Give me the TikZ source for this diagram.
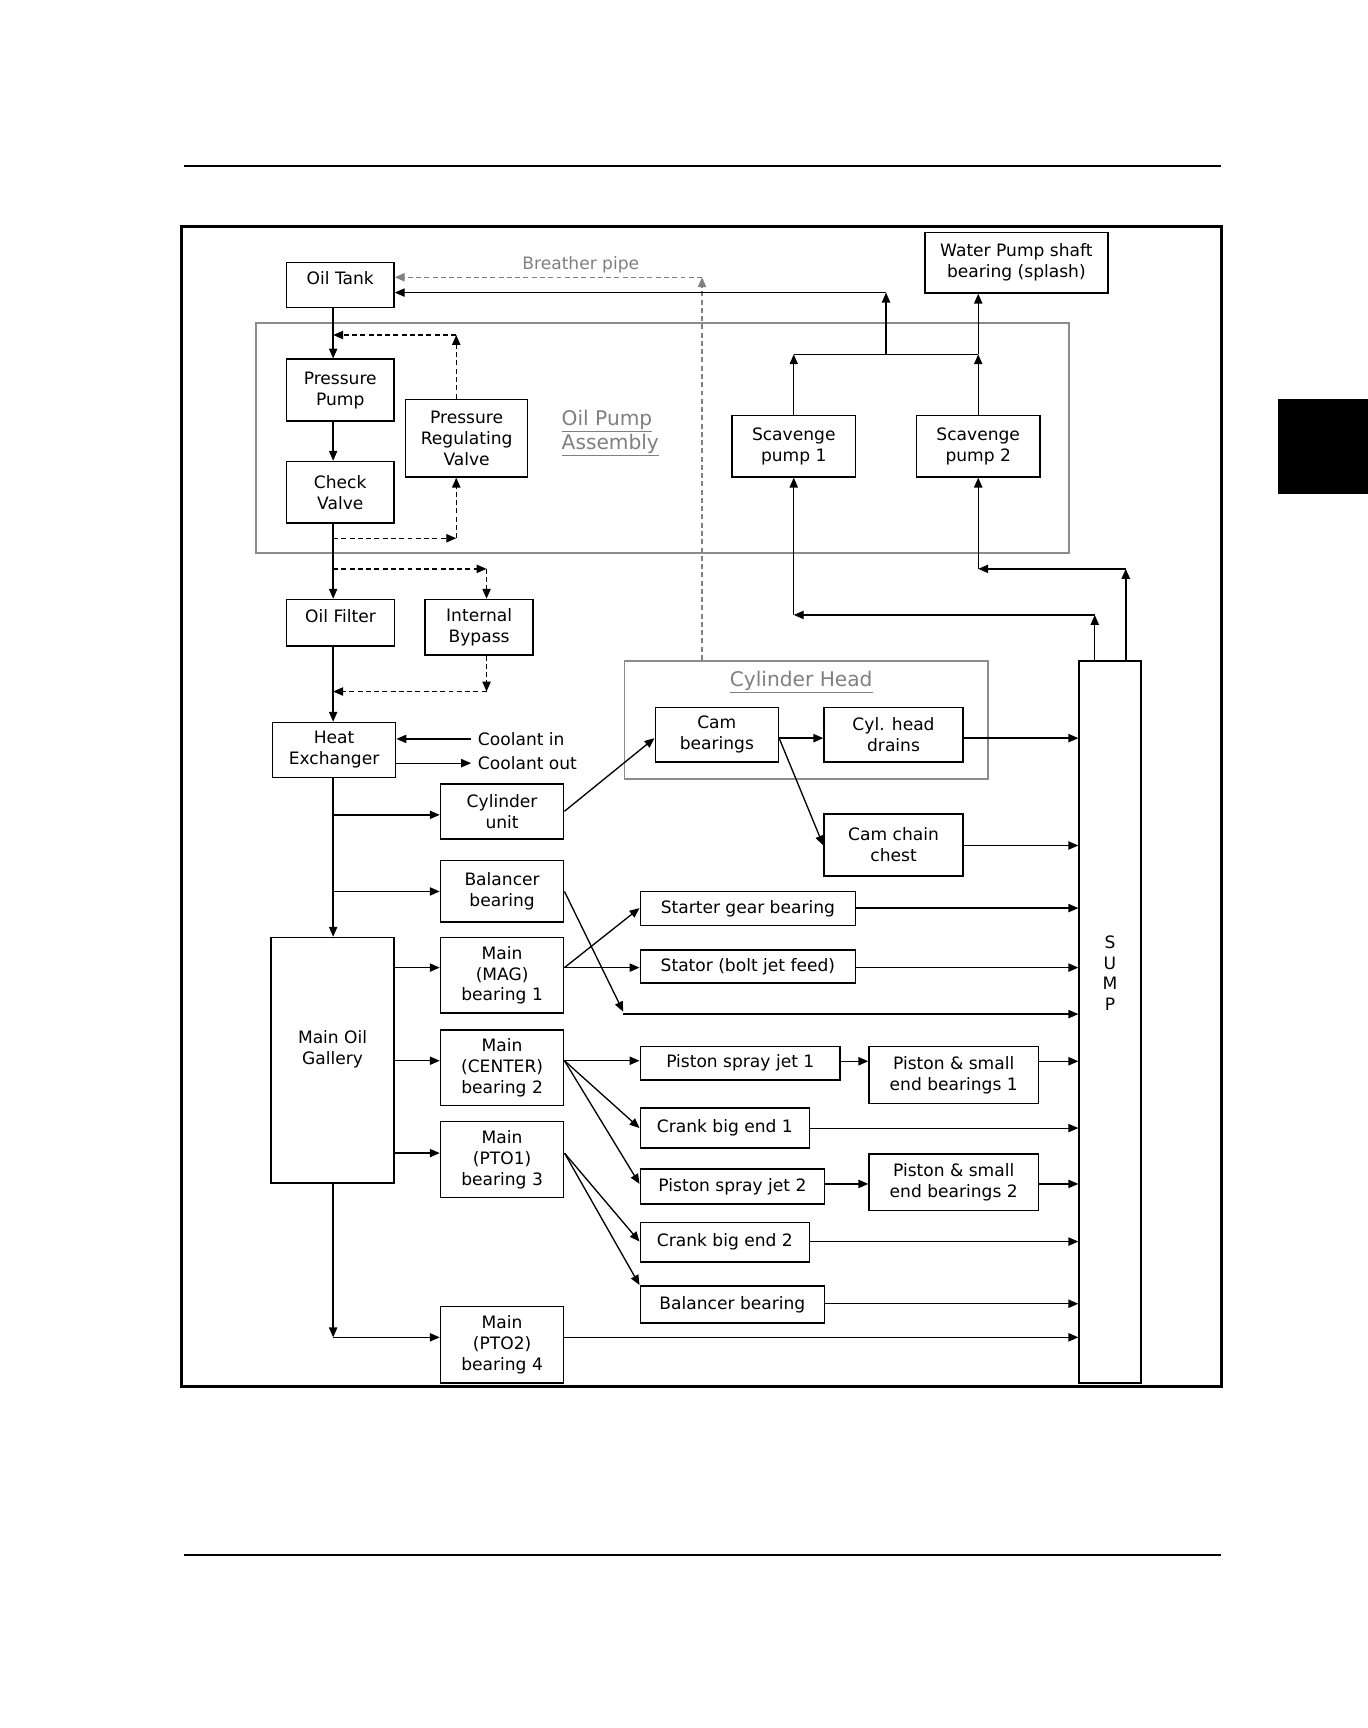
\documentclass[tikz,border=0pt]{standalone}
\usepackage{fontspec}
\setmainfont{DejaVu Sans}
\usetikzlibrary{arrows.meta,calc}
\definecolor{labgray}{gray}{0.5}
\definecolor{boxgray}{gray}{0.55}
\newcommand\dfont{\fontsize{15.5}{19}\selectfont}
\newcommand\gfont{\fontsize{18.3}{22}\selectfont}
\newcommand\mkbox[7][box]{\node[#1,minimum width={(#5-#3)*1pt},minimum height={(#6-#4)*1pt}] (#2) at ({(#3+#5)/2},{(#4+#6)/2}) {#7};}
\begin{document}
\begin{tikzpicture}[x=1pt,y=-1pt,
  box/.style={draw=black,line width=1.4pt,inner sep=0pt,align=center,font=\dfont},
  gbox/.style={draw=boxgray,line width=1.5pt,inner sep=0pt},
  txt/.style={inner sep=0pt,font=\dfont},
  glab/.style={inner sep=0pt,text=labgray},
  arr/.style={draw=black,line width=1.2pt,-{Triangle[length=9pt,width=7.5pt]}},
  dsh/.style={arr,dash pattern=on 4.5pt off 3pt},
  gdsh/.style={draw=labgray,line width=1.2pt,dash pattern=on 4.5pt off 3pt,-{Triangle[length=9pt,width=7.5pt]}},
  plain/.style={draw=black,line width=1.2pt}]
\useasboundingbox (0,0) rectangle (1241,1568);
\fill[white] (0,0) rectangle (1241,1568);
% page decoration
\draw[line width=2pt] (166.6,150.6) -- (1108.2,150.6);
\draw[line width=2pt] (166.6,1411) -- (1108.2,1411);
\fill[black] (1159.5,362) rectangle (1241,448.2);
\draw[line width=2.5pt] (164.8,205.4) rectangle (1108.4,1258);
% groups
\mkbox[gbox]{opa}{232}{293.3}{970.2}{502}{}
\mkbox[gbox]{cylhead}{566.7}{599.6}{896.8}{706.7}{}
% boxes
\mkbox{oiltank}{260}{238}{357.5}{279}{\raisebox{0pt}[0pt][0pt]{Oil Tank}}
\mkbox{wpump}{839.2}{210.8}{1005.3}{265.8}{Water Pump shaft\\bearing (splash)}
\mkbox{ppump}{260}{326}{357.5}{382}{Pressure\\Pump}
\mkbox{check}{260}{418.8}{357.5}{474.5}{Check\\Valve}
\mkbox{prv}{368}{362.3}{478.8}{432.7}{Pressure\\Regulating\\Valve}
\mkbox{scav1}{664.4}{377.1}{776.1}{432.7}{Scavenge\\pump 1}
\mkbox{scav2}{831.8}{377.1}{943.5}{432.7}{Scavenge\\pump 2}
\mkbox{filter}{260}{544}{358}{586}{\raisebox{0pt}[0pt][0pt]{Oil Filter}}
\mkbox{bypass}{385.8}{544}{483.7}{594.2}{Internal\\Bypass}
\mkbox{heatx}{247.3}{655.6}{359}{705.5}{Heat\\Exchanger}
\mkbox{cylunit}{399.7}{711.2}{511.5}{761.1}{Cylinder\\unit}
\mkbox{bal1}{399.7}{780.8}{511.5}{836.7}{Balancer\\bearing}
\mkbox{gallery}{245.9}{850.7}{357.7}{1073.5}{}
\mkbox{mag}{399.7}{850.7}{511.5}{919.3}{Main\\(MAG)\\bearing 1}
\mkbox{center}{399.7}{934.4}{511.5}{1003}{Main\\(CENTER)\\bearing 2}
\mkbox{pto1}{399.7}{1017.6}{511.5}{1086.5}{Main\\(PTO1)\\bearing 3}
\mkbox{pto2}{399.7}{1185.7}{511.5}{1254.7}{Main\\(PTO2)\\bearing 4}
\mkbox{cam}{594.6}{642}{706.3}{691.6}{Cam\\bearings}
\mkbox{drains}{747.8}{642}{873.8}{691.6}{Cyl. head\\drains}
\mkbox{chain}{747.8}{738.8}{873.8}{794.7}{Cam chain\\chest}
\mkbox{starter}{581}{808.9}{776.3}{840}{Starter gear bearing}
\mkbox{stator}{581}{861.8}{776.3}{892.1}{Stator (bolt jet feed)}
\mkbox{psj1}{581}{949.5}{762.4}{980}{Piston spray jet 1}
\mkbox{pse1}{788.6}{949.5}{942.2}{1001.2}{Piston \& small\\end bearings 1}
\mkbox{cbe1}{581}{1005.5}{734.4}{1041.8}{Crank big end 1}
\mkbox{psj2}{581}{1060.8}{748.3}{1092.3}{Piston spray jet 2}
\mkbox{pse2}{788.6}{1046.9}{942.2}{1098.6}{Piston \& small\\end bearings 2}
\mkbox{cbe2}{581}{1109.2}{734.4}{1144.9}{Crank big end 2}
\mkbox{bal2}{581}{1166.7}{748.1}{1200.5}{Balancer bearing}
\mkbox{sump}{979.2}{599.7}{1035.2}{1255}{}
% labels
\node[txt,align=center] (galleryl) at ($(gallery.center)+(0,-10)$) {Main Oil\\Gallery};
\node[txt,align=center,font=\fontsize{15.5}{18.6}\selectfont] (sumpl) at ($(sump.center)+(0,-44.5)$) {S\\U\\M\\P};
\node[glab,font=\dfont] (breather) at (527,240.4) {Breather pipe};
\node[glab,font=\gfont,align=left,anchor=west] (opal) at (509.5,393) {\underline{Oil Pump}\\\underline{Assembly}};
\node[glab,font=\gfont] (chl) at (727,619) {\underline{Cylinder Head}};
\node[txt,anchor=west] (cin) at (433.5,670.5) {Coolant in};
\node[txt,anchor=west] (cout) at (433.5,692.5) {Coolant out};
% coordinates
\coordinate (tx) at (302.3,0);
\coordinate (pl1) at (414,304);
\coordinate (pl2) at (414,488.4);
\coordinate (bp1) at (441.5,516.2);
\coordinate (bp2) at (441.5,627.5);
\coordinate (bc) at (637,251.6);
\coordinate (j1) at (804,321.5);
\coordinate (j1t) at (804,265.5);
\coordinate (s1) at (993.4,558);
\coordinate (s2) at (1021.5,516.2);
\coordinate (hb) at (565.5,918);
\coordinate (yCyl) at (0,739.4);
\coordinate (yBal) at (0,808.9);
\coordinate (yMag) at (0,878);
\coordinate (yCen) at (0,962.5);
\coordinate (yPto1) at (0,1046.3);
\coordinate (yPto2) at (0,1213.5);
\coordinate (yCam) at (0,669.8);
\coordinate (yChain) at (0,767.2);
\coordinate (yStart) at (0,824);
\coordinate (yBalH) at (0,920.2);
\coordinate (yP1) at (0,963);
\coordinate (yCbe1) at (0,1023.6);
\coordinate (yP2) at (0,1074.3);
\coordinate (yCbe2) at (0,1126.6);
\coordinate (yBal2) at (0,1183);
% main trunk
\draw[arr] (oiltank.south -| tx) -- (ppump.north -| tx);
\draw[arr] (ppump.south -| tx) -- (check.north -| tx);
\draw[arr] (check.south -| tx) -- (filter.north -| tx);
\draw[arr] (filter.south -| tx) -- (heatx.north -| tx);
\draw[arr] (heatx.south -| tx) -- (gallery.north -| tx);
\draw[arr] (gallery.south -| tx) -- (tx |- yPto2);
\draw[arr] (tx |- yPto2) -- (pto2.west |- yPto2);
% pressure regulating loop
\draw[dsh] (prv.north -| pl1) -- (pl1);
\draw[dsh] (pl1) -- (pl1 -| tx);
\draw[dsh] (pl2 -| tx) -- (pl2);
\draw[dsh] (pl2) -- (prv.south -| pl2);
% bypass
\draw[dsh] (bp1 -| tx) -- (bp1);
\draw[dsh] (bp1) -- (bypass.north -| bp1);
\draw[dsh] (bypass.south -| bp1) -- (bp2);
\draw[dsh] (bp2) -- (bp2 -| tx);
% breather
\draw[gdsh] (cylhead.north -| bc) -- (bc);
\draw[gdsh] (bc) -- (oiltank.east |- bc);
% scavenge return
\draw[arr] (scav1.north) -- (scav1.north |- j1);
\draw[plain] (scav1.north |- j1) -- (scav2.north |- j1);
\draw[arr] (scav2.north) -- (scav2.north |- j1);
\draw[arr] (scav2.north |- j1) -- (wpump.south -| scav2.north);
\draw[arr] (j1) -- (j1t);
\draw[arr] (j1t) -- (oiltank.east |- j1t);
% sump to scavenge pumps
\draw[arr] (sump.north -| s1) -- (s1);
\draw[arr] (s1) -- (s1 -| scav1.south);
\draw[arr] (s1 -| scav1.south) -- (scav1.south);
\draw[arr,line width=1.6pt] (sump.north -| s2) -- (s2);
\draw[arr] (s2) -- (s2 -| scav2.south);
\draw[arr] (s2 -| scav2.south) -- (scav2.south);
% coolant
\draw[arr] ([xshift=-6pt]cin.west) -- (heatx.east |- cin.west);
\draw[arr] (heatx.east |- cout.west) -- ([xshift=-6pt]cout.west);
% branches from trunk
\draw[arr] (tx |- yCyl) -- (cylunit.west |- yCyl);
\draw[arr] (tx |- yBal) -- (bal1.west |- yBal);
\draw[arr] (gallery.east |- yMag) -- (mag.west |- yMag);
\draw[arr] (gallery.east |- yCen) -- (center.west |- yCen);
\draw[arr] (gallery.east |- yPto1) -- (pto1.west |- yPto1);
% cylinder head
\draw[arr] (cylunit.east) -- (cam.west |- yCam);
\draw[arr] (cam.east |- yCam) -- (drains.west |- yCam);
\draw[arr] (cam.east |- yCam) -- (chain.west |- yChain);
\draw[arr] (drains.east |- yCam) -- (sump.west |- yCam);
\draw[arr] (chain.east |- yChain) -- (sump.west |- yChain);
% balancer 1
\draw[arr] (bal1.east |- yBal) -- (hb);
\draw[arr] (hb |- yBalH) -- (sump.west |- yBalH);
% MAG
\draw[arr] (mag.east |- yMag) -- (starter.west |- yStart);
\draw[arr] (mag.east |- yMag) -- (stator.west |- yMag);
\draw[arr] (starter.east |- yStart) -- (sump.west |- yStart);
\draw[arr] (stator.east |- yMag) -- (sump.west |- yMag);
% CENTER
\draw[arr] (center.east |- yCen) -- (psj1.west |- yCen);
\draw[arr] (center.east |- yCen) -- (cbe1.west |- yCbe1);
\draw[arr] (center.east |- yCen) -- (psj2.west |- yP2);
\draw[arr] (psj1.east |- yP1) -- (pse1.west |- yP1);
\draw[arr] (pse1.east |- yP1) -- (sump.west |- yP1);
\draw[arr,line width=0.9pt] (cbe1.east |- yCbe1) -- (sump.west |- yCbe1);
\draw[arr] (psj2.east |- yP2) -- (pse2.west |- yP2);
\draw[arr] (pse2.east |- yP2) -- (sump.west |- yP2);
% PTO1
\draw[arr] (pto1.east |- yPto1) -- (cbe2.west |- yCbe2);
\draw[arr] (pto1.east |- yPto1) -- (bal2.north west);
\draw[arr] (cbe2.east |- yCbe2) -- (sump.west |- yCbe2);
\draw[arr] (bal2.east |- yBal2) -- (sump.west |- yBal2);
% PTO2
\draw[arr] (pto2.east |- yPto2) -- (sump.west |- yPto2);
\end{tikzpicture}
\end{document}
